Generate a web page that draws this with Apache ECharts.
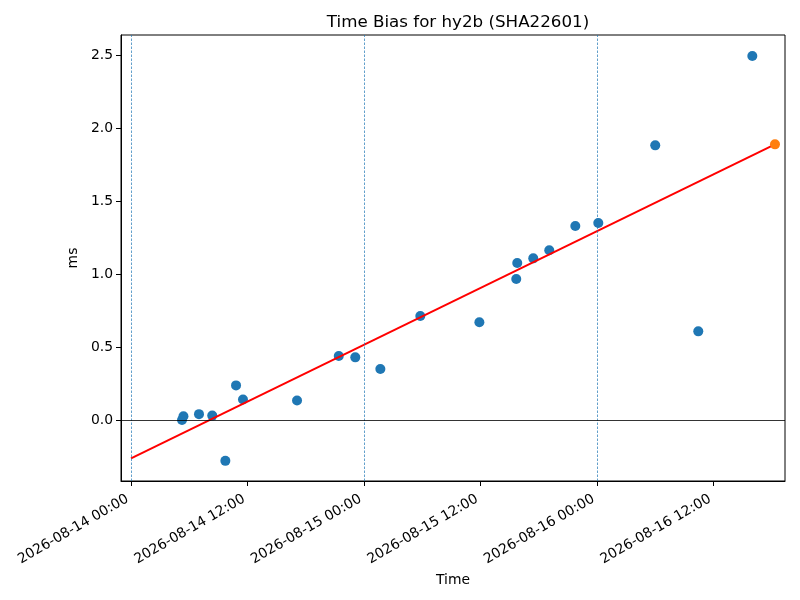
<!DOCTYPE html>
<html>
<head>
<meta charset="utf-8">
<title>Time Bias for hy2b (SHA22601)</title>
<script src="https://cdn.jsdelivr.net/npm/echarts@6/dist/echarts.min.js"></script>
<style>
  html, body { margin: 0; padding: 0; background: #fff; }
  #main { width: 800px; height: 600px; }
</style>
</head>
<body>
<div id="main"></div>
<script>
// measured time bias points (UTC)
var times = [
    '2026-08-14 05:15', '2026-08-14 05:24', '2026-08-14 07:00', '2026-08-14 08:22',
    '2026-08-14 09:43', '2026-08-14 10:49', '2026-08-14 11:32', '2026-08-14 17:06',
    '2026-08-14 21:24', '2026-08-14 23:06', '2026-08-15 01:41', '2026-08-15 05:48',
    '2026-08-15 11:53', '2026-08-15 15:41', '2026-08-15 15:47', '2026-08-15 17:26',
    '2026-08-15 19:05', '2026-08-15 21:46', '2026-08-16 00:08', '2026-08-16 06:00',
    '2026-08-16 10:26', '2026-08-16 16:00'
];
var bias = [
    0.00, 0.025, 0.04, 0.03,
    -0.28, 0.237, 0.14, 0.134,
    0.438, 0.429, 0.349, 0.712,
    0.669, 0.966, 1.075, 1.107,
    1.162, 1.329, 1.349, 1.881,
    0.607, 2.493
];
// predicted point
var predTime = ['2026-08-16 18:20'];
var predBias = [1.888];
// linear fit line
var fitTimes = ['2026-08-14 00:00', '2026-08-16 18:20'];
var fitBias = [-0.263, 1.888];
// day boundaries
var dayLines = ['2026-08-14 00:00', '2026-08-15 00:00', '2026-08-16 00:00'];
// axes
var xTicks = ['2026-08-14 00:00', '2026-08-14 12:00', '2026-08-15 00:00',
              '2026-08-15 12:00', '2026-08-16 00:00', '2026-08-16 12:00'];
var xRange = ['2026-08-13 22:58', '2026-08-16 19:22'];
var yTicks = [0, 0.5, 1.0, 1.5, 2.0, 2.5];
var yRange = [-0.418, 2.637];

function toMs(s) {
    var d = s.split(' ');
    var ymd = d[0].split('-');
    var hm = d[1].split(':');
    return Date.UTC(+ymd[0], +ymd[1] - 1, +ymd[2], +hm[0], +hm[1]);
}
function pad(n) { return n < 10 ? '0' + n : '' + n; }
function fmt(v) {
    var d = new Date(v);
    return d.getUTCFullYear() + '-' + pad(d.getUTCMonth() + 1) + '-' + pad(d.getUTCDate()) +
        ' ' + pad(d.getUTCHours()) + ':' + pad(d.getUTCMinutes());
}
function pairs(ts, vs) {
    return ts.map(function (t, i) { return [toMs(t), vs[i]]; });
}

var font = 'DejaVu Sans';
var chart = echarts.init(document.getElementById('main'));
var option = {
    backgroundColor: '#fff',
    animation: false,
    title: {
        text: 'Time Bias for hy2b (SHA22601)',
        left: 453,
        textAlign: 'center',
        top: 9,
        textStyle: { fontFamily: font, fontSize: 16.7, fontWeight: 'normal', color: '#000' }
    },
    grid: {
        left: 121, right: 15, top: 35, bottom: 119,
        show: true, borderColor: '#000', borderWidth: 1, backgroundColor: 'transparent'
    },
    xAxis: {
        type: 'value',
        min: toMs(xRange[0]),
        max: toMs(xRange[1]),
        name: 'Time',
        nameLocation: 'middle',
        nameGap: 88,
        nameTextStyle: { fontFamily: font, fontSize: 13.9, color: '#000' },
        axisLine: { onZero: false, lineStyle: { color: '#000', width: 1 } },
        axisTick: { customValues: xTicks.map(toMs), length: 5, lineStyle: { color: '#000' } },
        axisLabel: {
            customValues: xTicks.map(toMs),
            rotate: 30,
            margin: 15,
            padding: [0, 4, 0, 0],
            formatter: fmt,
            fontFamily: font, fontSize: 13.9, color: '#000'
        },
        splitLine: { show: false }
    },
    yAxis: {
        type: 'value',
        min: yRange[0],
        max: yRange[1],
        name: 'ms',
        nameLocation: 'middle',
        nameGap: 35,
        nameTextStyle: { fontFamily: font, fontSize: 13.9, color: '#000' },
        axisLine: { onZero: false, lineStyle: { color: '#000', width: 1 } },
        axisTick: { customValues: yTicks, length: 5, lineStyle: { color: '#000' } },
        axisLabel: {
            customValues: yTicks,
            margin: 8,
            formatter: function (v) { return v.toFixed(1); },
            fontFamily: font, fontSize: 13.9, color: '#000'
        },
        splitLine: { show: false }
    },
    series: [
        {
            type: 'line',
            data: [],
            markLine: {
                silent: true,
                symbol: 'none',
                label: { show: false },
                lineStyle: { color: '#1f77b4', width: 0.7, type: [2.5, 1.5] },
                data: dayLines.map(function (t) { return { xAxis: toMs(t) }; })
            }
        },
        {
            type: 'line',
            data: [],
            markLine: {
                silent: true,
                symbol: 'none',
                label: { show: false },
                lineStyle: { color: '#000', width: 0.8, type: 'solid' },
                data: [{ yAxis: 0 }]
            }
        },
        {
            type: 'scatter',
            data: pairs(times, bias),
            symbolSize: 10,
            itemStyle: { color: '#1f77b4', opacity: 1 },
            z: 3
        },
        {
            type: 'line',
            data: pairs(fitTimes, fitBias),
            showSymbol: false,
            lineStyle: { color: '#ff0000', width: 2 },
            z: 4
        },
        {
            type: 'scatter',
            data: pairs(predTime, predBias),
            symbolSize: 10,
            itemStyle: { color: '#ff7f0e', opacity: 1 },
            z: 5
        }
    ]
};
chart.setOption(option);
</script>
</body>
</html>
